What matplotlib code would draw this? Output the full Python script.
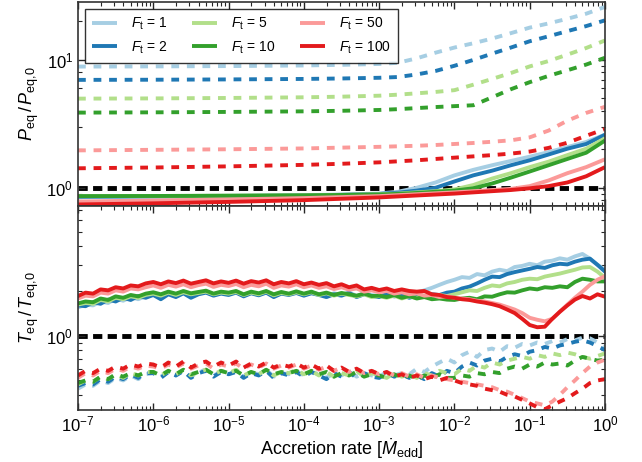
import numpy as np
import matplotlib
matplotlib.use("Agg")
import matplotlib.pyplot as plt
from matplotlib.ticker import LogLocator, NullFormatter

plt.rcParams['font.family'] = ['Liberation Sans', 'DejaVu Sans']
plt.rcParams['mathtext.fontset'] = 'custom'
plt.rcParams['mathtext.rm'] = 'Liberation Sans'
plt.rcParams['mathtext.it'] = 'Liberation Sans:italic'
plt.rcParams['mathtext.bf'] = 'Liberation Sans:bold'
plt.rcParams['mathtext.sf'] = 'Liberation Sans'

# ---------------- data ----------------
F_t = [1, 2, 5, 10, 50, 100]
colors = ['#a6cee3', '#1f78b4', '#b2df8a', '#33a02c', '#fb9a99', '#e31a1c']

# top panel x grid (log10 of accretion rate)
logm_top = [-7, -6, -5, -4, -3.5, -3, -2.75, -2.5, -2.25, -2, -1.75, -1.5,
            -1.25, -1, -0.75, -0.5, -0.25, 0]

# P_eq/P_eq,0  solid
P_solid_1 = [0.855, 0.86, 0.865, 0.875, 0.885, 0.9, 0.93, 1.0, 1.1, 1.25, 1.38, 1.5, 1.62, 1.75, 1.9, 2.08, 2.28, 2.6]
P_solid_2 = [0.85, 0.855, 0.86, 0.87, 0.88, 0.895, 0.915, 0.95, 1.0, 1.12, 1.25, 1.36, 1.5, 1.64, 1.82, 2.02, 2.2, 2.6]
P_solid_5 = [0.86, 0.862, 0.866, 0.872, 0.88, 0.89, 0.9, 0.92, 0.94, 0.97, 1.05, 1.18, 1.3, 1.45, 1.6, 1.8, 2.02, 2.44]
P_solid_10 = [0.86, 0.862, 0.866, 0.872, 0.878, 0.886, 0.895, 0.91, 0.93, 0.95, 0.99, 1.08, 1.2, 1.34, 1.5, 1.68, 1.88, 2.34]
P_solid_50 = [0.78, 0.795, 0.81, 0.83, 0.845, 0.86, 0.875, 0.89, 0.905, 0.92, 0.94, 0.96, 0.98, 1.03, 1.14, 1.3, 1.45, 1.67]
P_solid_100 = [0.74, 0.755, 0.775, 0.8, 0.82, 0.84, 0.855, 0.87, 0.885, 0.9, 0.92, 0.94, 0.96, 0.99, 1.03, 1.1, 1.23, 1.45]

# P_eq/P_eq,0  dashed
P_dash_1 = [8.87, 8.9, 8.95, 9.05, 9.15, 9.3, 9.5, 10.3, 11.4, 12.5, 13.5, 14.7, 16.2, 17.9, 19.3, 21.0, 23.0, 26.0]
P_dash_2 = [6.98, 7.0, 7.04, 7.1, 7.16, 7.25, 7.35, 7.7, 8.2, 9.0, 10.0, 11.2, 12.5, 14.0, 15.3, 16.8, 18.4, 20.4]
P_dash_5 = [4.98, 5.0, 5.04, 5.1, 5.16, 5.25, 5.35, 5.48, 5.62, 5.8, 6.4, 7.1, 7.9, 8.9, 9.8, 11.0, 12.4, 14.2]
P_dash_10 = [3.87, 3.89, 3.92, 3.96, 4.0, 4.06, 4.12, 4.2, 4.28, 4.35, 4.42, 5.1, 5.9, 6.7, 7.5, 8.3, 9.2, 10.4]
P_dash_50 = [1.96, 1.98, 2.0, 2.03, 2.06, 2.09, 2.11, 2.13, 2.16, 2.2, 2.24, 2.29, 2.35, 2.48, 2.8, 3.35, 3.85, 4.3]
P_dash_100 = [1.42, 1.44, 1.47, 1.51, 1.54, 1.58, 1.61, 1.64, 1.68, 1.72, 1.76, 1.8, 1.85, 1.92, 2.05, 2.25, 2.55, 2.88]

# bottom panel x grid: log10 accretion rate from -7 to 0 in steps of 0.1
logm_bot = np.round(np.arange(-7.0, 0.001, 0.1), 1)

# T_eq/T_eq,0 solid
T_solid_1 = [1.55, 1.62, 1.6, 1.7, 1.66, 1.78, 1.72, 1.82, 1.76, 1.85,
             1.9, 1.8, 1.93, 1.86, 1.95, 1.84, 1.92, 1.97, 1.88, 1.94,
             1.9, 1.98, 1.86, 1.95, 1.88, 1.97, 1.84, 1.93, 1.9, 1.96,
             1.87, 1.95, 1.9, 1.84, 1.93, 1.88, 1.96, 1.85, 1.92, 1.88,
             1.84, 1.92, 1.86, 1.9, 1.85, 1.95, 2.02, 2.1, 2.2, 2.3,
             2.38, 2.48, 2.45, 2.6, 2.55, 2.7, 2.78, 2.72, 2.9, 2.95,
             3.05, 2.98, 3.15, 3.2, 3.32, 3.25, 3.42, 3.55, 3.3, 3.0,
             2.78]
T_solid_2 = [1.6, 1.58, 1.68, 1.64, 1.75, 1.7, 1.8, 1.74, 1.85, 1.8,
             1.88, 1.76, 1.9, 1.82, 1.93, 1.8, 1.9, 1.95, 1.86, 1.92,
             1.88, 1.95, 1.84, 1.93, 1.87, 1.95, 1.82, 1.92, 1.88, 1.94,
             1.86, 1.93, 1.88, 1.82, 1.9, 1.86, 1.94, 1.82, 1.9, 1.85,
             1.82, 1.9, 1.84, 1.88, 1.8, 1.86, 1.82, 1.9, 1.88, 1.95,
             1.98, 2.08, 2.14, 2.25, 2.38, 2.5, 2.48, 2.6, 2.68, 2.75,
             2.82, 2.9, 2.86, 2.98, 3.05, 3.02, 3.15, 3.25, 3.3, 3.0,
             2.7]
T_solid_5 = [1.62, 1.66, 1.64, 1.74, 1.7, 1.8, 1.76, 1.84, 1.8, 1.88,
             1.92, 1.86, 1.95, 1.88, 1.96, 1.9, 1.94, 1.98, 1.9, 1.95,
             1.92, 1.97, 1.88, 1.95, 1.9, 1.98, 1.87, 1.94, 1.9, 1.96,
             1.9, 1.96, 1.88, 1.93, 1.86, 1.92, 1.88, 1.84, 1.9, 1.82,
             1.85, 1.8, 1.86, 1.78, 1.84, 1.8, 1.86, 1.82, 1.88, 1.85,
             1.9, 1.96, 2.02, 2.0, 2.1, 2.18, 2.15, 2.25, 2.3, 2.38,
             2.42, 2.4, 2.5, 2.56, 2.62, 2.7, 2.78, 2.88, 2.9, 2.7,
             2.45]
T_solid_10 = [1.65, 1.7, 1.68, 1.78, 1.74, 1.84, 1.8, 1.88, 1.84, 1.92,
              1.96, 1.9, 1.98, 1.92, 2.0, 1.93, 1.97, 2.01, 1.92, 1.98,
              1.95, 2.0, 1.9, 1.98, 1.93, 2.0, 1.9, 1.97, 1.92, 1.99,
              1.92, 1.98, 1.9, 1.95, 1.88, 1.94, 1.9, 1.86, 1.92, 1.85,
              1.86, 1.82, 1.88, 1.8, 1.85, 1.78, 1.82, 1.76, 1.78, 1.75,
              1.74, 1.78, 1.8, 1.76, 1.84, 1.83, 1.9, 1.96, 1.95, 2.02,
              2.08, 2.05, 2.12, 2.1, 2.15, 2.12, 2.3, 2.42, 2.38, 2.32,
              2.32]
T_solid_50 = [1.78, 1.86, 1.84, 1.95, 1.92, 2.02, 1.98, 2.08, 2.05, 2.12,
              2.18, 2.1, 2.2, 2.14, 2.22, 2.12, 2.19, 2.24, 2.13, 2.2,
              2.16, 2.23, 2.12, 2.2, 2.15, 2.24, 2.1, 2.18, 2.14, 2.22,
              2.12, 2.18, 2.1, 2.15, 2.06, 2.12, 2.04, 2.08, 1.98, 2.02,
              1.96, 2.0, 1.92, 1.96, 1.9, 1.93, 1.86, 1.88, 1.82, 1.84,
              1.8, 1.78, 1.76, 1.72, 1.7, 1.66, 1.62, 1.56, 1.5, 1.42,
              1.32, 1.28, 1.25, 1.3, 1.45, 1.62, 1.8, 1.98, 2.2, 2.38,
              2.52]
T_solid_100 = [1.85, 1.95, 1.92, 2.05, 2.02, 2.12, 2.08, 2.18, 2.15, 2.25,
               2.3, 2.22, 2.32, 2.26, 2.35, 2.24, 2.3, 2.36, 2.25, 2.32,
               2.27, 2.35, 2.24, 2.33, 2.28, 2.36, 2.22, 2.3, 2.25, 2.33,
               2.22, 2.28, 2.2, 2.26, 2.15, 2.22, 2.12, 2.18, 2.05, 2.1,
               2.03, 2.08, 2.0, 2.05, 2.0, 1.98, 2.0, 1.9, 1.88, 1.82,
               1.8, 1.76, 1.74, 1.7, 1.67, 1.63, 1.58, 1.5, 1.42, 1.3,
               1.18, 1.14, 1.15, 1.3, 1.45, 1.6, 1.75, 1.85, 1.78, 1.9,
               1.83]

# T_eq/T_eq,0 dashed
T_dash_1 = [0.44, 0.47, 0.46, 0.5, 0.48, 0.52, 0.5, 0.54, 0.51, 0.55,
            0.56, 0.53, 0.57, 0.54, 0.58, 0.53, 0.57, 0.59, 0.54, 0.57,
            0.55, 0.58, 0.53, 0.57, 0.55, 0.59, 0.53, 0.56, 0.55, 0.58,
            0.54, 0.57, 0.55, 0.52, 0.56, 0.54, 0.58, 0.53, 0.56, 0.54,
            0.53, 0.57, 0.54, 0.56, 0.55, 0.6, 0.57, 0.62, 0.66, 0.7,
            0.66, 0.74, 0.78, 0.72, 0.8, 0.82, 0.78, 0.85, 0.83, 0.88,
            0.86, 0.9, 0.88, 0.92, 0.9, 0.95, 0.93, 0.97, 0.96, 0.9,
            0.84]
T_dash_2 = [0.46, 0.48, 0.47, 0.51, 0.49, 0.53, 0.51, 0.55, 0.52, 0.56,
            0.56, 0.52, 0.57, 0.54, 0.58, 0.52, 0.56, 0.58, 0.53, 0.57,
            0.55, 0.57, 0.52, 0.56, 0.54, 0.58, 0.52, 0.56, 0.54, 0.57,
            0.53, 0.57, 0.54, 0.51, 0.56, 0.53, 0.57, 0.52, 0.56, 0.53,
            0.52, 0.56, 0.53, 0.55, 0.52, 0.54, 0.51, 0.56, 0.53, 0.58,
            0.56, 0.62, 0.66, 0.63, 0.68, 0.7, 0.67, 0.72, 0.75, 0.73,
            0.78, 0.8, 0.84, 0.82, 0.86, 0.88, 0.91, 0.93, 0.9, 0.85,
            0.8]
T_dash_5 = [0.47, 0.5, 0.49, 0.53, 0.51, 0.55, 0.52, 0.56, 0.54, 0.57,
            0.57, 0.54, 0.58, 0.55, 0.59, 0.54, 0.57, 0.59, 0.55, 0.58,
            0.56, 0.59, 0.54, 0.57, 0.55, 0.59, 0.54, 0.57, 0.56, 0.59,
            0.55, 0.58, 0.54, 0.57, 0.53, 0.56, 0.54, 0.58, 0.53, 0.56,
            0.54, 0.52, 0.56, 0.53, 0.55, 0.52, 0.56, 0.54, 0.58, 0.56,
            0.55, 0.6, 0.58, 0.63, 0.61, 0.66, 0.64, 0.68, 0.7, 0.72,
            0.7, 0.74, 0.72, 0.76, 0.74, 0.77, 0.75, 0.72, 0.7, 0.73,
            0.76]
T_dash_10 = [0.48, 0.5, 0.49, 0.53, 0.51, 0.55, 0.53, 0.56, 0.54, 0.57,
             0.57, 0.54, 0.58, 0.55, 0.59, 0.55, 0.57, 0.59, 0.55, 0.58,
             0.56, 0.58, 0.54, 0.57, 0.55, 0.59, 0.55, 0.57, 0.56, 0.58,
             0.55, 0.58, 0.55, 0.57, 0.53, 0.56, 0.54, 0.57, 0.53, 0.55,
             0.54, 0.52, 0.55, 0.52, 0.54, 0.51, 0.54, 0.52, 0.55, 0.52,
             0.52, 0.54, 0.53, 0.56, 0.55, 0.57, 0.56, 0.6, 0.62, 0.6,
             0.64, 0.62, 0.66, 0.64, 0.65, 0.63, 0.68, 0.72, 0.7, 0.68,
             0.69]
T_dash_50 = [0.52, 0.56, 0.54, 0.58, 0.56, 0.6, 0.58, 0.62, 0.6, 0.63,
             0.62, 0.6, 0.64, 0.61, 0.65, 0.6, 0.63, 0.65, 0.6, 0.64,
             0.62, 0.65, 0.6, 0.64, 0.61, 0.65, 0.6, 0.63, 0.61, 0.64,
             0.6, 0.63, 0.59, 0.62, 0.58, 0.61, 0.57, 0.6, 0.56, 0.58,
             0.55, 0.57, 0.54, 0.56, 0.53, 0.55, 0.52, 0.54, 0.52, 0.51,
             0.5, 0.49, 0.48, 0.47, 0.46, 0.45, 0.43, 0.42, 0.4, 0.38,
             0.36, 0.35, 0.34, 0.36, 0.4, 0.45, 0.5, 0.56, 0.62, 0.66,
             0.69]
T_dash_100 = [0.54, 0.58, 0.56, 0.6, 0.58, 0.62, 0.6, 0.64, 0.62, 0.65,
              0.64, 0.61, 0.66, 0.62, 0.67, 0.61, 0.65, 0.67, 0.62, 0.66,
              0.63, 0.67, 0.61, 0.65, 0.62, 0.66, 0.61, 0.64, 0.62, 0.65,
              0.61, 0.64, 0.6, 0.63, 0.58, 0.61, 0.57, 0.6, 0.56, 0.58,
              0.55, 0.57, 0.53, 0.55, 0.52, 0.54, 0.51, 0.53, 0.5, 0.52,
              0.5, 0.48, 0.47, 0.46, 0.44, 0.43, 0.42, 0.4, 0.39, 0.37,
              0.35, 0.33, 0.32, 0.34, 0.36, 0.38, 0.41, 0.44, 0.48, 0.5,
              0.51]

P_solid = [P_solid_1, P_solid_2, P_solid_5, P_solid_10, P_solid_50, P_solid_100]
P_dash = [P_dash_1, P_dash_2, P_dash_5, P_dash_10, P_dash_50, P_dash_100]
T_solid = [T_solid_1, T_solid_2, T_solid_5, T_solid_10, T_solid_50, T_solid_100]
T_dash = [T_dash_1, T_dash_2, T_dash_5, T_dash_10, T_dash_50, T_dash_100]

# ---------------- figure ----------------
fig = plt.figure(figsize=(6.42, 4.62), dpi=100)
gs = fig.add_gridspec(2, 1, hspace=0, left=0.1215, right=0.9424,
                      top=0.9957, bottom=0.1126)
ax1 = fig.add_subplot(gs[0])
ax2 = fig.add_subplot(gs[1], sharex=ax1)

xt = 10.0 ** np.array(logm_top)
xb = 10.0 ** logm_bot
LW = 2.8
DASH = (2.0, 2.0)

for i, F in enumerate(F_t):
    ax1.plot(xt, P_solid[i], color=colors[i], lw=LW, label=r'$F_{\rm t}$ = %d' % F,
             solid_capstyle='butt')
    ax1.plot(xt, P_dash[i], color=colors[i], lw=LW, dashes=DASH)
    ax2.plot(xb, T_solid[i], color=colors[i], lw=LW)
    ax2.plot(xb, T_dash[i], color=colors[i], lw=LW, dashes=DASH)

for ax in (ax1, ax2):
    ax.axhline(1.0, color='black', lw=3.5, dashes=(1.9, 1.1), zorder=1.5)
    ax.set_xscale('log')
    ax.set_yscale('log')
    ax.tick_params(which='both', direction='in', top=True, right=True,
                   labelsize=12, color='0.15')
    ax.tick_params(which='major', length=5, width=1)
    ax.tick_params(which='minor', length=3, width=0.8)
    ax.yaxis.set_minor_formatter(NullFormatter())
    ax.xaxis.set_minor_formatter(NullFormatter())
    ax.xaxis.set_major_locator(LogLocator(base=10, numticks=20))
    ax.xaxis.set_minor_locator(LogLocator(base=10, subs=np.arange(2, 10), numticks=20))
    for s in ax.spines.values():
        s.set_linewidth(1.2)
        s.set_color('0.2')

ax1.set_xlim(1e-7, 1.0)
ax1.set_ylim(0.72, 28.4)
ax2.set_ylim(10 ** -0.5, 7.47)
plt.setp(ax1.get_xticklabels(), visible=False)

ax1.set_ylabel(r'$P_{\rm eq}\,/\,P_{\rm eq{,}0}$', fontsize=13)
ax2.set_ylabel(r'$T_{\rm eq}\,/\,T_{\rm eq{,}0}$', fontsize=13)
ax2.set_xlabel(r'Accretion rate [$\dot{M}_{\rm edd}$]', fontsize=13, labelpad=1)

leg = ax1.legend(loc='upper left', ncol=3, fontsize=10, frameon=True,
                 fancybox=False, handlelength=1.8, columnspacing=1.8,
                 handletextpad=1.0, borderpad=0.5)
leg.get_frame().set_edgecolor('black')
leg.get_frame().set_linewidth(1.0)

fig.savefig('out.png', dpi=100)
